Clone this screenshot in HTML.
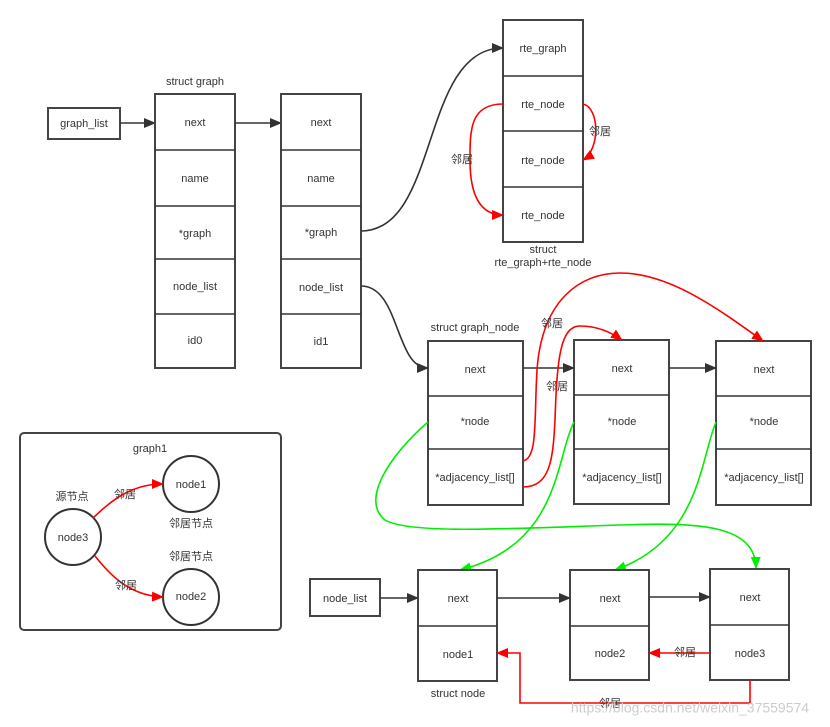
<!DOCTYPE html>
<html><head><meta charset="utf-8"><style>
html,body{margin:0;padding:0;background:#fff;}
svg{display:block;}
text{font-family:"Liberation Sans","Noto Sans CJK SC",sans-serif;font-size:11px;fill:#333;text-anchor:middle;dominant-baseline:middle;}
.b{fill:#fff;stroke:#444;stroke-width:2;}
.l{fill:none;stroke:#333;stroke-width:1.6;}
.r{fill:none;stroke:#f00;stroke-width:1.6;}
.g{fill:none;stroke:#0e0;stroke-width:1.6;}
</style></head><body>
<svg width="830" height="727" viewBox="0 0 830 727" xmlns="http://www.w3.org/2000/svg">
<defs>
<marker id="ak" markerWidth="12" markerHeight="10" refX="11" refY="5" orient="auto" markerUnits="userSpaceOnUse"><path d="M0,0 L12,5 L0,10 Z" fill="#333"/></marker>
<marker id="ar" markerWidth="12" markerHeight="10" refX="11" refY="5" orient="auto" markerUnits="userSpaceOnUse"><path d="M0,0 L12,5 L0,10 Z" fill="#f00"/></marker>
<marker id="ag" markerWidth="12" markerHeight="10" refX="11" refY="5" orient="auto" markerUnits="userSpaceOnUse"><path d="M0,0 L12,5 L0,10 Z" fill="#0e0"/></marker>
</defs>

<!-- graph_list -->
<rect class="b" x="48" y="108" width="72" height="31"/><text x="84" y="124">graph_list</text>
<path class="l" d="M120,123 L155,123" marker-end="url(#ak)"/>

<text x="195" y="82">struct graph</text>
<rect class="b" x="155" y="94" width="80" height="274"/>
<path class="l" d="M155,150H235M155,206H235M155,259H235M155,314H235"/>
<text x="195" y="123">next</text><text x="195" y="179">name</text><text x="195" y="234">*graph</text><text x="195" y="287">node_list</text><text x="195" y="341">id0</text>
<path class="l" d="M235,123 L281,123" marker-end="url(#ak)"/>

<rect class="b" x="281" y="94" width="80" height="274"/>
<path class="l" d="M281,150H361M281,206H361M281,259H361M281,314H361"/>
<text x="321" y="123">next</text><text x="321" y="179">name</text><text x="321" y="233">*graph</text><text x="321" y="288">node_list</text><text x="321" y="342">id1</text>

<!-- rte -->
<rect class="b" x="503" y="20" width="80" height="222"/>
<path class="l" d="M503,76H583M503,131H583M503,187H583"/>
<text x="543" y="49">rte_graph</text><text x="543" y="105">rte_node</text><text x="543" y="161">rte_node</text><text x="543" y="216">rte_node</text>
<text x="543" y="250">struct</text><text x="543" y="263">rte_graph+rte_node</text>
<path class="l" d="M361,231 C440,231 420,48 503,48" marker-end="url(#ak)"/>
<path class="r" d="M503,104 C470,104 470,130 470,160 C470,195 480,215 503,215" marker-end="url(#ar)"/>
<path class="r" d="M583,104 C600,108 600,150 583,160" marker-end="url(#ar)"/>
<text x="462" y="160">邻居</text><text x="600" y="132">邻居</text>

<!-- graph_node -->
<text x="475" y="328">struct graph_node</text>
<rect class="b" x="428" y="341" width="95" height="164"/><path class="l" d="M428,396H523M428,449H523"/>
<text x="475" y="370">next</text><text x="475" y="422">*node</text><text x="475" y="478">*adjacency_list[]</text>
<rect class="b" x="574" y="340" width="95" height="164"/><path class="l" d="M574,395H669M574,449H669"/>
<text x="622" y="369">next</text><text x="622" y="422">*node</text><text x="622" y="478">*adjacency_list[]</text>
<rect class="b" x="716" y="341" width="95" height="164"/><path class="l" d="M716,396H811M716,449H811"/>
<text x="764" y="370">next</text><text x="764" y="422">*node</text><text x="764" y="478">*adjacency_list[]</text>
<path class="l" d="M361,286 C400,286 395,368 428,368" marker-end="url(#ak)"/>
<path class="l" d="M523,368 L574,368" marker-end="url(#ak)"/>
<path class="l" d="M669,368 L716,368" marker-end="url(#ak)"/>
<path class="r" d="M523,461 C538,458 534,420 537,370 C542,300 580,273 620,273 C670,273 720,310 763,341" marker-end="url(#ar)"/>
<path class="r" d="M523,487 C550,487 553,460 555,420 C557,360 560,326 580,326 C600,326 615,335 622,340" marker-end="url(#ar)"/>
<text x="552" y="324">邻居</text><text x="557" y="387">邻居</text>

<!-- green -->
<path class="g" d="M428,422 C390,455 360,500 385,520 C410,535 520,528 620,525 C700,522 755,525 756,568" marker-end="url(#ag)"/>
<path class="g" d="M574,422 C555,460 560,545 460,570" marker-end="url(#ag)"/>
<path class="g" d="M716,422 C700,460 700,540 615,570" marker-end="url(#ag)"/>

<!-- bottom -->
<rect class="b" x="310" y="579" width="70" height="37"/><text x="345" y="599">node_list</text>
<rect class="b" x="418" y="570" width="79" height="111"/><path class="l" d="M418,626H497"/>
<text x="458" y="599">next</text><text x="458" y="655">node1</text>
<rect class="b" x="570" y="570" width="79" height="110"/><path class="l" d="M570,626H649"/>
<text x="610" y="599">next</text><text x="610" y="654">node2</text>
<rect class="b" x="710" y="569" width="79" height="111"/><path class="l" d="M710,625H789"/>
<text x="750" y="598">next</text><text x="750" y="654">node3</text>
<text x="458" y="694">struct node</text>
<path class="l" d="M380,598 L418,598" marker-end="url(#ak)"/>
<path class="l" d="M497,598 L570,598" marker-end="url(#ak)"/>
<path class="l" d="M649,597 L710,597" marker-end="url(#ak)"/>
<path class="r" d="M710,653 L649,653" marker-end="url(#ar)"/>
<text x="685" y="653" style="fill:#333">邻居</text>
<path class="r" d="M750,680 L750,703 L520,703 L520,653 L497,653" marker-end="url(#ar)"/>
<text x="610" y="704">邻居</text>
<text x="690" y="709" style="fill:#ccc;font-size:14px;">https://blog.csdn.net/weixin_37559574</text>

<!-- graph1 -->
<rect x="20" y="433" width="261" height="197" rx="4" fill="#fff" stroke="#444" stroke-width="2"/>
<text x="150" y="449">graph1</text>
<circle cx="191" cy="484" r="28" fill="#fff" stroke="#333" stroke-width="2"/><text x="191" y="485">node1</text>
<circle cx="73" cy="537" r="28" fill="#fff" stroke="#333" stroke-width="2"/><text x="73" y="538">node3</text>
<circle cx="191" cy="597" r="28" fill="#fff" stroke="#333" stroke-width="2"/><text x="191" y="597">node2</text>
<text x="72" y="497">源节点</text><text x="191" y="524">邻居节点</text><text x="191" y="557">邻居节点</text>
<path class="r" d="M93,518 C110,502 130,484 163,484" marker-end="url(#ar)"/>
<path class="r" d="M95,556 C110,575 130,596 163,597" marker-end="url(#ar)"/>
<text x="125" y="495" style="fill:#333">邻居</text><text x="126" y="586" style="fill:#333">邻居</text>
</svg>
</body></html>
